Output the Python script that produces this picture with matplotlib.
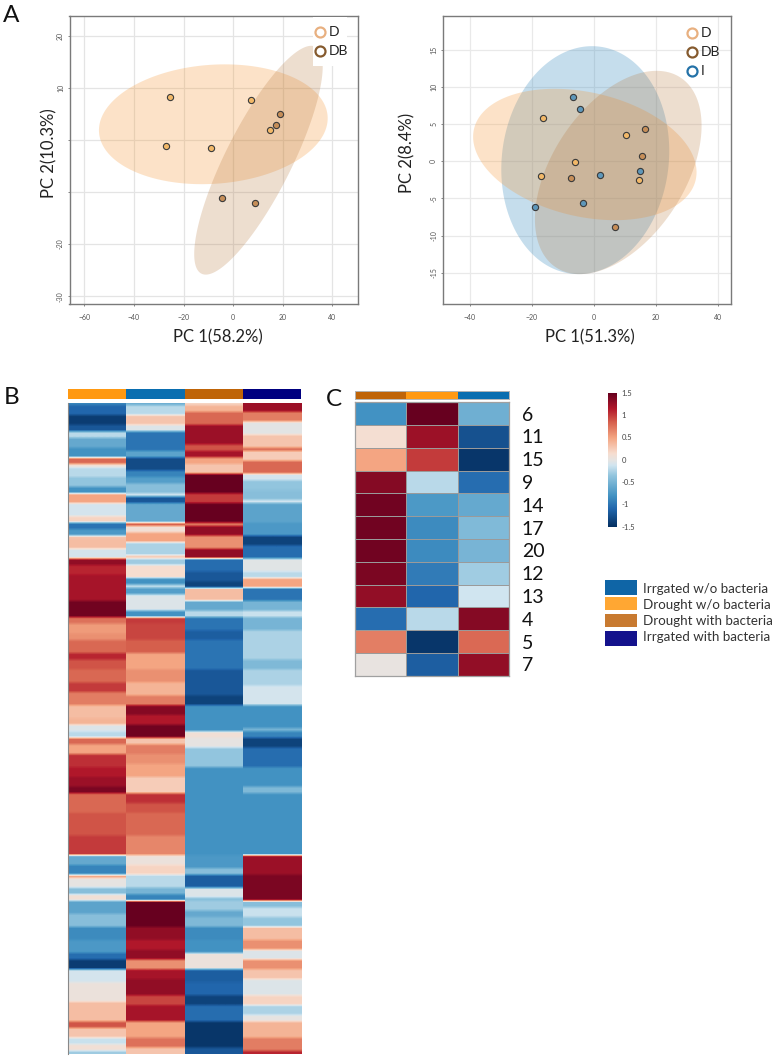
import numpy as np
import matplotlib
matplotlib.use("Agg")
import matplotlib.pyplot as plt
from matplotlib.colors import LinearSegmentedColormap
from matplotlib.patches import Rectangle

plt.rcParams['font.family'] = ['Lato', 'DejaVu Sans']

W, H = 778, 1063

# ---------- Panel A: PCA scores ----------
a1_d_x = [-25.3, 7.2, 14.9, -27.2, -9.0]
a1_d_y = [8.3, 7.6, 1.9, -1.1, -1.6]
a1_db_x = [18.8, 17.2, -4.5, 9.0]
a1_db_y = [5.0, 2.8, -11.1, -12.1]

a2_d_x = [-16.4, 10.4, -6.2, -16.9, 14.5]
a2_d_y = [5.85, 3.6, -0.1, -1.95, -2.5]
a2_db_x = [16.6, 15.4, -7.4, 6.8]
a2_db_y = [4.4, 0.7, -2.2, -8.8]
a2_i_x = [-6.6, -4.6, 2.0, 15.0, -3.5, -18.9]
a2_i_y = [8.7, 7.0, -1.8, -1.3, -5.6, -6.1]

# confidence ellipses: centre x, centre y, half-width, half-height, correlation
a1_d_ell = (-8.0, 3.0, 46.1, 11.5, 0.10)
a1_db_ell = (10.2, -3.9, 25.9, 21.96, 0.82)
a2_d_ell = (-2.9, 0.92, 36.0, 8.84, -0.27)
a2_db_ell = (7.87, -1.5, 26.85, 13.68, 0.46)
a2_i_ell = (-2.76, 0.16, 27.06, 15.34, 0.08)

a1_xticks = [-60, -40, -20, 0, 20, 40]
a1_yticks = [20, 10, 0, -10, -20, -30]
a2_xticks = [-40, -20, 0, 20, 40]
a2_yticks = [15, 10, 5, 0, -5, -10, -15]
a1_yticklabels = ['20', '10', '', '', '-20', '-30']

# ---------- Panel B: heatmap bands (value, last row of band; 200 rows) ----------
b_rows = 200
b1_vals = [-.9,-1.1,-1.4,-1.2,-.2,-.6,-.8,.8,.1,-.2,-.35,-.8,.5,-.1,.2,-1.0,-.75,.3,.35,-.1,
           1.3,1.1,1.2,1.2,1.45,.75,.55,.6,.8,1.1,.9,.8,1.0,.7,.35,.4,-.05,-.2,.8,.5,
           1.05,1.15,1.25,1.4,.8,.9,1.0,-.6,-.9,.5,0,-.4,.1,-.65,-.4,-.85,-.75,-1.05,-1.4,-.1,
           .05,.35,.9,.3,-.15,.1,-.3]
b1_ends = [1,4,7,9,11,14,17,19,20,23,26,28,31,35,37,39,41,42,45,48,
           50,53,56,61,66,68,71,73,77,79,82,86,89,93,97,99,101,103,105,108,
           112,115,118,120,126,133,139,142,145,146,149,151,153,157,161,165,169,171,174,178,
           184,190,192,195,197,199,200]
b2_vals = [-.55,-.2,.3,-.05,-1.0,-.65,-1.3,-.9,-.7,-.4,-.1,-1.2,-.6,.9,.1,.5,-.25,.3,-.3,.15,
           -.8,-.15,-.7,-.05,-.8,1.0,.95,.85,.5,.6,.4,.7,1.35,1.15,1.45,.3,.7,.6,.5,.25,
           1.05,.9,.8,.65,.05,.2,-.2,-.5,-.9,1.5,1.3,1.15,1.3,.6,1.2,1.3,.95,1.2,.5,.75,.3]
b2_ends = [1,4,7,9,15,17,21,23,25,28,29,31,37,38,40,43,47,48,50,54,
           56,57,59,64,66,68,73,77,82,86,90,93,96,99,103,105,108,111,115,120,
           123,126,133,139,142,145,149,151,153,161,165,168,171,174,177,182,185,190,195,198,200]
b3_vals = [.2,.4,.8,1.25,.9,1.2,.5,.3,1.5,1.0,1.5,.7,1.3,.6,1.3,-1.05,-1.2,-1.35,.35,-.6,
           -.2,-1.0,-1.15,-1.0,-1.2,-1.35,-.8,.1,0,-.35,-.8,-.75,-.4,-1.15,-.05,-.4,-.3,-.6,-.45,-.85,
           -.8,.05,-1.15,-1.1,-1.35,-1.05,-1.45,-1.2]
b3_ends = [1,3,7,13,15,17,19,22,28,31,37,38,41,45,48,52,55,57,61,64,
           66,70,73,82,90,93,101,103,106,112,139,143,145,149,152,153,156,158,161,165,
           169,174,178,182,185,190,198,200]
b4_vals = [1.25,.7,-.02,.3,.8,.25,.8,-.1,-.35,-.4,-.1,-.65,-.75,-1.35,-1.05,-.03,-.2,.5,-1.0,-.5,
           -.15,-.5,-.25,-.45,-.25,-.1,-.8,-.5,-.9,-1.35,-1.05,-.8,-.45,-.8,1.25,1.4,-.4,-.15,-.35,.35,
           .6,-.05,.6,.3,-.05,.2,-.25,0,.4,.7,1.1]
b4_ends = [3,6,10,14,15,18,22,24,27,30,31,37,41,44,48,52,54,57,61,64,
           66,70,79,82,87,93,100,101,103,106,112,118,120,139,145,153,155,158,161,165,
           168,171,174,177,182,185,188,190,195,199,200]
b_annot = ['#FF9912', '#0A6EB0', '#BF6408', '#000080']

# ---------- Panel C: heatmap ----------
c_rows = ['6', '11', '15', '9', '14', '17', '20', '12', '13', '4', '5', '7']
c_col1 = [-.8, .12, .5, 1.35, 1.45, 1.45, 1.45, 1.4, 1.3, -1.05, .7, .02]
c_col2 = [1.5, 1.25, 1.0, -.2, -.75, -.85, -.85, -.95, -1.1, -.2, -1.45, -1.15]
c_col3 = [-.55, -1.25, -1.45, -1.05, -.6, -.45, -.5, -.3, -.12, 1.35, .8, 1.3]
c_annot = ['#BF6408', '#FF9912', '#0A6EB0']

cbar_ticks = [1.5, 1, 0.5, 0, -0.5, -1, -1.5]
legend_names = ['Irrgated w/o bacteria', 'Drought w/o bacteria',
                'Drought with bacteria', 'Irrgated with bacteria']
legend_colors = ['#0F65A6', '#FFA733', '#C87A30', '#14128C']

# colour scale nodes
cmap_levels = [-1.5, -1.1, -0.8, -0.35, -0.12, 0, 0.15, 0.5, 0.85, 1.15, 1.5]
cmap_colors = ['#053061', '#2166AC', '#4393C3', '#92C5DE', '#D1E5F0', '#E6E4E2',
               '#F7DDCF', '#F4A582', '#D6604D', '#B2182B', '#67001F']
heat = LinearSegmentedColormap.from_list(
    'heat', [((v + 1.5) / 3, c) for v, c in zip(cmap_levels, cmap_colors)])

# ---------- Styles ----------
D_FILL, DB_FILL, I_FILL = '#F59A3B', '#B5763A', '#2B83BA'
D_PT, DB_PT, I_PT = '#F2B868', '#C68E58', '#5E97BA'
D_RING, DB_RING, I_RING = '#E8B080', '#855A2E', '#2472A8'

fig = plt.figure(figsize=(W / 100, H / 100), dpi=100, facecolor='white')


def axes_px(l, t, r, b):
    return fig.add_axes([l / W, 1 - b / H, (r - l) / W, (b - t) / H])


def ellipse(ax, params, color, alpha=0.28):
    cx, cy, a, b, rho = params
    t = np.linspace(0, 2 * np.pi, 300)
    ax.fill(cx + a * np.cos(t),
            cy + b * (rho * np.cos(t) + np.sqrt(1 - rho ** 2) * np.sin(t)),
            color=color, alpha=alpha, lw=0, zorder=2)


def style_pca(ax, xlim, ylim, xt, yt, ytl=None, gridc='#E4E4E4'):
    ax.set_xlim(*xlim)
    ax.set_ylim(*ylim)
    ax.set_xticks(xt)
    ax.set_yticks(yt)
    ax.set_yticklabels([str(v) for v in yt] if ytl is None else ytl,
                       rotation=90, va='center')
    ax.tick_params(labelsize=5, colors='#555555', length=1.5, width=0.5, pad=2.5)
    ax.tick_params(axis='x', pad=5.5)
    ax.grid(True, color=gridc, lw=0.9, zorder=0)
    ax.set_axisbelow(True)
    for s in ax.spines.values():
        s.set_color('#7A7A7A')
        s.set_linewidth(1.0)


def points(ax, x, y, c):
    ax.scatter(x, y, s=20, facecolor=c, edgecolor='#3A3A3A', linewidth=0.8, zorder=5)


# Panel A left
ax1 = axes_px(69.5, 15.7, 357.7, 304)
style_pca(ax1, (-65.97, 50.2), (-31.5, 23.84), a1_xticks, a1_yticks, a1_yticklabels)
ellipse(ax1, a1_d_ell, D_FILL)
ellipse(ax1, a1_db_ell, DB_FILL, 0.24)
points(ax1, a1_d_x, a1_d_y, D_PT)
points(ax1, a1_db_x, a1_db_y, DB_PT)

# Panel A right
ax2 = axes_px(442.7, 15.7, 731.3, 304)
style_pca(ax2, (-48.7, 44.3), (-19.2, 19.6), a2_xticks, a2_yticks, gridc='#E9E9E9')
ellipse(ax2, a2_i_ell, I_FILL, 0.27)
ellipse(ax2, a2_d_ell, D_FILL)
ellipse(ax2, a2_db_ell, DB_FILL, 0.24)
points(ax2, a2_d_x, a2_d_y, D_PT)
points(ax2, a2_db_x, a2_db_y, DB_PT)
points(ax2, a2_i_x, a2_i_y, I_PT)

# Panel B
ax_b = axes_px(68.3, 403, 301, 1054.3)
for i, (v, e) in enumerate([(b1_vals, b1_ends), (b2_vals, b2_ends),
                            (b3_vals, b3_ends), (b4_vals, b4_ends)]):
    col = np.repeat(v, np.diff([0] + e))[:, None]
    ax_b.imshow(col, cmap=heat, vmin=-1.5, vmax=1.5, aspect='auto',
                interpolation='bilinear', extent=(i, i + 1, b_rows, 0))
ax_b.set_xlim(0, 4)
ax_b.set_ylim(b_rows, 0)
ax_b.set_xticks([])
ax_b.set_yticks([])
for k, s in ax_b.spines.items():
    s.set_visible(k == 'left')
    s.set_color('#888888')
    s.set_linewidth(0.8)

ax_ba = axes_px(68.3, 389.3, 301, 399.3)
for i, c in enumerate(b_annot):
    ax_ba.bar(i + .5, 1, width=1, color=c, lw=0)
ax_ba.set_xlim(0, 4)
ax_ba.set_ylim(0, 1)
ax_ba.axis('off')

# Panel C
ax_c = axes_px(354.7, 402.3, 509.3, 675.7)
c_matrix = np.column_stack([c_col1, c_col2, c_col3])
ax_c.pcolormesh(c_matrix, cmap=heat, vmin=-1.5, vmax=1.5,
                edgecolors='#9A9A9A', linewidth=0.5)
ax_c.set_ylim(len(c_rows), 0)
ax_c.set_xticks([])
ax_c.yaxis.tick_right()
ax_c.set_yticks(np.arange(len(c_rows)) + .5)
ax_c.set_yticklabels(c_rows, fontsize=14, color='#111111')
for lab in ax_c.get_yticklabels():
    lab.set_horizontalalignment('left')
ax_c.tick_params(axis='y', length=0, pad=9)
for s in ax_c.spines.values():
    s.set_color('#A0A0A0')
    s.set_linewidth(0.9)

ax_ca = axes_px(354.7, 391, 509.3, 399)
for i, c in enumerate(c_annot):
    ax_ca.bar(i + .5, 1, width=1, color=c, lw=0)
ax_ca.set_xlim(0, 3)
ax_ca.set_ylim(0, 1)
ax_ca.set_xticks([])
ax_ca.set_yticks([])
for s in ax_ca.spines.values():
    s.set_color('#B5B5B5')
    s.set_linewidth(0.7)

# Colour bar
ax_cb = axes_px(608.3, 392.7, 617.3, 526.7)
grad = np.linspace(1.5, -1.5, 256)[:, None]
ax_cb.imshow(grad, cmap=heat, vmin=-1.5, vmax=1.5, aspect='auto',
             extent=(0, 1, -1.5, 1.5))
ax_cb.set_xticks([])
ax_cb.yaxis.tick_right()
ax_cb.set_yticks(cbar_ticks)
ax_cb.set_yticklabels([str(v) for v in cbar_ticks], fontsize=5.5, color='#444444',
                      ha='left')
ax_cb.tick_params(axis='y', length=0, pad=3)
for s in ax_cb.spines.values():
    s.set_visible(False)

# Overlay in pixel coordinates: text, legends, patch over left PCA
ov = fig.add_axes([0, 0, 1, 1], facecolor='none')
ov.set_xlim(0, W)
ov.set_ylim(H, 0)
ov.axis('off')

ov.add_patch(Rectangle((312.7, 17), 34, 49, color='white', lw=0, zorder=1))

LAB = 12
ov.text(217.7, 337, 'PC 1(58.2%)', fontsize=LAB, ha='center', va='center', color='#222222')
ov.text(590, 337, 'PC 1(51.3%)', fontsize=LAB, ha='center', va='center', color='#222222')
ov.text(49, 153, 'PC 2(10.3%)', fontsize=LAB, ha='center', va='center', rotation=90, color='#222222')
ov.text(407, 153, 'PC 2(8.4%)', fontsize=LAB, ha='center', va='center', rotation=90, color='#222222')

for s, x, y in [('A', 11, 15), ('B', 12, 397), ('C', 334, 399)]:
    ov.text(x, y, s, fontsize=17.5, ha='center', va='center', color='#111111')

for px, py, c, s in [(320, 32, D_RING, 'D'), (320, 50.7, DB_RING, 'DB'),
                     (692, 33, D_RING, 'D'), (692, 52, DB_RING, 'DB'),
                     (692, 71, I_RING, 'I')]:
    ov.plot([px], [py], 'o', ms=7.2, mfc='white', mec=c, mew=1.6, zorder=3)
    ov.text(px + 8.5, py + 0.3, s, fontsize=10, ha='left', va='center',
            color='#222222', zorder=3)

for (top, bot, mid), c, s in zip([(580.3, 595, 589.3), (597, 610.3, 605.3),
                                  (614, 627.3, 621.3), (631.3, 645.7, 637.3)],
                                 legend_colors, legend_names):
    ov.add_patch(Rectangle((605.3, top), 31.7, bot - top, color=c, lw=0))
    ov.text(643, mid, s, fontsize=9.6, ha='left', va='center', color='#333333')

fig.savefig('out.png', dpi=100)
